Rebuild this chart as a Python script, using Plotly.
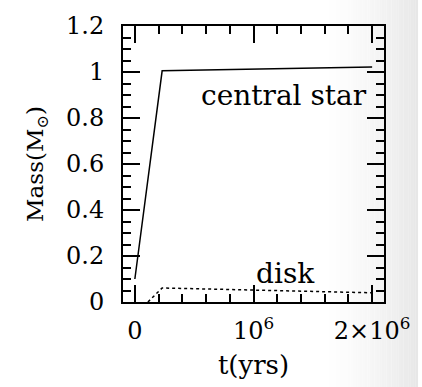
import plotly.graph_objects as go

# Data
star_t = [0, 2.3e5, 2.0e6]
star_m = [0.10, 1.005, 1.022]
disk_t = [1.1e5, 2.3e5, 2.0e6]
disk_m = [0.0, 0.061, 0.040]

xtick_vals = [0, 1e6, 2e6]
xtick_text = ["0", "10<sup>6</sup>", "2×10<sup>6</sup>"]
ytick_vals = [0, 0.2, 0.4, 0.6, 0.8, 1.0, 1.2]
ytick_text = ["0", "0.2", "0.4", "0.6", "0.8", "1", "1.2"]

FONT = "'DejaVu Serif', 'Liberation Serif', serif"

fig = go.Figure()
fig.add_trace(go.Scatter(x=star_t, y=star_m, mode="lines",
                         line=dict(color="black", width=1.5), showlegend=False))
fig.add_trace(go.Scatter(x=disk_t, y=disk_m, mode="lines",
                         line=dict(color="black", width=1.5, dash="dot"), showlegend=False))

# subtle grey shading toward the right edge of the page
n = 40
xs, xe = 0.76, 1.13
w = (xe - xs) / n
for i in range(n):
    x0 = xs + i * w
    f = (i + 1) / n
    g = int(round(255 - 24 * f ** 1.5))
    fig.add_shape(type="rect", xref="paper", yref="paper", x0=x0, x1=x0 + w * 1.05,
                  y0=-0.5, y1=1.2, fillcolor=f"rgb({g},{g},{g})", line_width=0, layer="below")

fig.add_annotation(x=1.26e6, y=0.9, text="central star", showarrow=False,
                   font=dict(family=FONT, size=28, color="black"))
fig.add_annotation(x=1.27e6, y=0.125, text="disk", showarrow=False,
                   font=dict(family=FONT, size=28, color="black"))

axis_common = dict(showline=True, linecolor="black", linewidth=2, mirror="ticks",
                   ticks="inside", tickcolor="black", tickwidth=1.5, ticklen=17,
                   showgrid=False, zeroline=False,
                   tickfont=dict(family=FONT, size=24, color="black"))

fig.update_xaxes(range=[-1e5, 2.1e6], tickvals=xtick_vals, ticktext=xtick_text,
                 minor=dict(dtick=2e5, tick0=0, ticks="inside", ticklen=8, tickcolor="black", tickwidth=1.5),
                 title=dict(text="t(yrs)", font=dict(family=FONT, size=26, color="black"), standoff=12),
                 ticklabelstandoff=6,
                 **axis_common)
fig.update_yaxes(range=[0, 1.2], tickvals=ytick_vals, ticktext=ytick_text,
                 minor=dict(dtick=0.05, tick0=0, ticks="inside", ticklen=8, tickcolor="black", tickwidth=1.5),
                 title=dict(text="Mass(M<sub>⊙</sub>)", font=dict(family=FONT, size=23, color="black"), standoff=16),
                 ticklabelstandoff=12,
                 **axis_common)

fig.update_layout(width=422, height=387, margin=dict(l=123, r=31, t=18, b=84),
                  paper_bgcolor="white", plot_bgcolor="rgba(0,0,0,0)")

fig.write_html("out.html")
